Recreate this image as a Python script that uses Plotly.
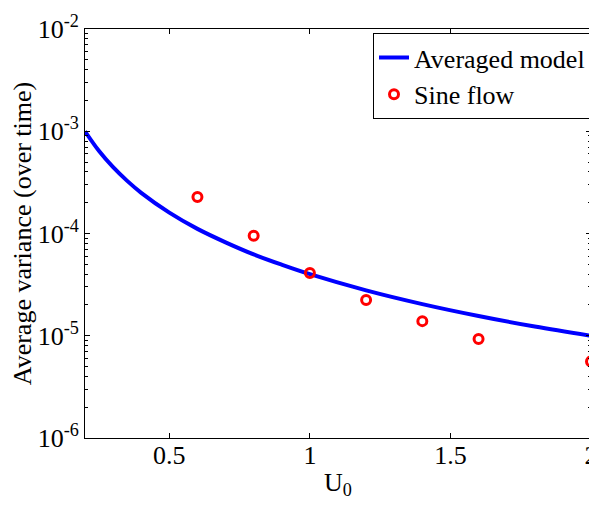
import plotly.graph_objects as go

# Averaged model curve
model_u = [0.2, 0.25, 0.3, 0.35, 0.4, 0.5, 0.6, 0.7, 0.8, 0.9, 1.0, 1.2, 1.4, 1.6, 1.8, 2.0]
model_var = [1.0e-3, 6.4e-4, 4.45e-4, 3.27e-4, 2.5e-4, 1.6e-4, 1.11e-4, 8.2e-5, 6.25e-5,
             4.95e-5, 4.0e-5, 2.78e-5, 2.04e-5, 1.56e-5, 1.23e-5, 1.0e-5]

# Sine flow points
sine_u = [0.6, 0.8, 1.0, 1.2, 1.4, 1.6, 2.0]
sine_var = [2.28e-4, 9.5e-5, 4.1e-5, 2.24e-5, 1.39e-5, 9.3e-6, 5.6e-6]

ytick_vals = [1e-6, 1e-5, 1e-4, 1e-3, 1e-2]
ytick_text = ["10<sup>-6</sup>", "10<sup>-5</sup>", "10<sup>-4</sup>", "10<sup>-3</sup>", "10<sup>-2</sup>"]
xtick_vals = [0.5, 1, 1.5, 2]
xtick_text = ["0.5", "1", "1.5", "2"]

FONT = "Liberation Serif"
FS = 26

fig = go.Figure()
fig.add_trace(go.Scatter(x=model_u, y=model_var, mode="lines", name="Averaged model",
                         line=dict(color="rgb(0,0,255)", width=4, shape="spline")))
fig.add_trace(go.Scatter(x=sine_u, y=sine_var, mode="markers", name="Sine flow",
                         marker=dict(symbol="circle-open", size=9, color="red",
                                     line=dict(color="red", width=3)),
                         cliponaxis=False))

# page body has an 8px margin, so the figure is 8px smaller than the window
fig.update_layout(
    width=589, height=497,
    margin=dict(l=77, r=6, t=21, b=67, autoexpand=False),
    paper_bgcolor="white", plot_bgcolor="white",
    font=dict(family=FONT, size=FS, color="black"),
    showlegend=True,
    legend=dict(x=1.0, y=0.99, xanchor="right", yanchor="top",
                bordercolor="black", borderwidth=1, bgcolor="white",
                font=dict(family=FONT, size=FS), tracegroupgap=0,
                itemwidth=30),
    xaxis=dict(range=[0.2, 2], tickvals=xtick_vals, ticktext=xtick_text,
               ticks="inside", ticklen=5, tickcolor="black",
               showline=True, linecolor="black", linewidth=1, mirror="ticks",
               showgrid=False, zeroline=False, ticklabeloverflow="allow",
               ticklabelstandoff=-6,
               title=dict(text="U<sub>0</sub>", standoff=3, font=dict(family=FONT, size=FS)),
               tickfont=dict(family=FONT, size=FS)),
    yaxis=dict(type="log", range=[-6, -2], tickvals=ytick_vals, ticktext=ytick_text,
               ticks="inside", ticklen=5, tickcolor="black",
               showline=True, linecolor="black", linewidth=1, mirror="ticks",
               showgrid=False, zeroline=False, ticklabeloverflow="allow",
               minor=dict(ticks="inside", ticklen=3, tickcolor="black", showgrid=False,
                          tickvals=[m * 10 ** e for e in range(-6, -2) for m in range(2, 10)]),
               title=dict(text="Average variance (over time)", standoff=5,
                          font=dict(family=FONT, size=FS)),
               tickfont=dict(family=FONT, size=FS)),
)

fig.write_html("out.html")
